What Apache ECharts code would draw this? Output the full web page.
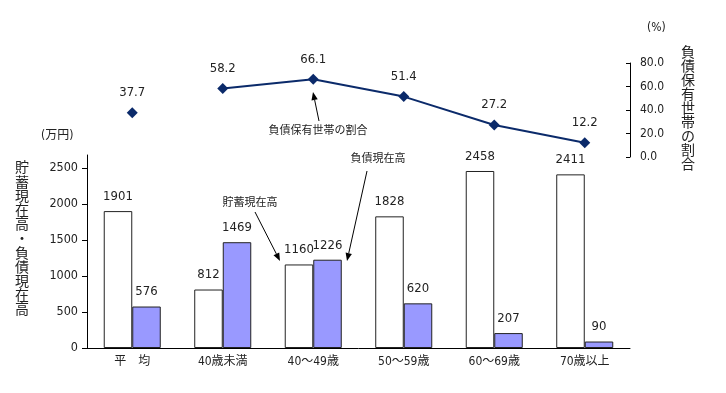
<!DOCTYPE html>
<html><head><meta charset="utf-8">
<script src="https://cdn.jsdelivr.net/npm/echarts@6/dist/echarts.min.js"></script>
<style>html,body{margin:0;padding:0;background:#fff}#c{width:726px;height:393px}</style>
</head><body><div id="c"></div>
<script>
const categories = ['平　均', '40歳未満', '40～49歳', '50～59歳', '60～69歳', '70歳以上'];
const savings = [1901, 812, 1160, 1828, 2458, 2411];
const debts = [576, 1469, 1226, 620, 207, 90];
const debtRatio = [37.7, 58.2, 66.1, 51.4, 27.2, 12.2];
const leftTicks = [0, 500, 1000, 1500, 2000, 2500];
const rightTicks = [0, 20, 40, 60, 80];

const FONT = '"DejaVu Sans Condensed", "Noto Sans CJK JP", sans-serif';
const CJK = '"Noto Sans CJK JP", sans-serif';
const NAVY = '#0b2a6a';
const TXT = '#222';

const avgPoint = debtRatio.map((v, i) => i === 0 ? v : null);
const linePts = debtRatio.map((v, i) => i === 0 ? null : v);

function arrow(x1, y1, x2, y2) {
  const a = Math.atan2(y2 - y1, x2 - x1), L = 8, W = 3.2;
  const bx = x2 - L * Math.cos(a), by = y2 - L * Math.sin(a);
  const px = -Math.sin(a) * W, py = Math.cos(a) * W;
  return [
    { type: 'line', shape: { x1, y1, x2: bx, y2: by }, style: { stroke: '#000', lineWidth: 1 } },
    { type: 'polygon', shape: { points: [[x2, y2], [bx + px, by + py], [bx - px, by - py]] }, style: { fill: '#000' } }
  ];
}
function vtext(s) { return s.split('').join('\n'); }

const chart = echarts.init(document.getElementById('c'));
chart.setOption({
  animation: false,
  backgroundColor: '#fff',
  grid: [
    { left: 87, right: 96, top: 63, height: 94 },
    { left: 87, right: 96, top: 155, bottom: 45 }
  ],
  xAxis: [
    { type: 'category', gridIndex: 0, data: categories, show: false },
    { type: 'category', gridIndex: 1, data: categories,
      axisLine: { lineStyle: { color: '#000', width: 1 } },
      axisTick: { show: false },
      axisLabel: { color: TXT, fontFamily: FONT, fontSize: 12, margin: 8 } }
  ],
  yAxis: [
    { type: 'value', gridIndex: 0, position: 'right', min: 0, max: 80, interval: 20,
      splitLine: { show: false },
      axisLine: { show: true, lineStyle: { color: '#000' } },
      axisTick: { show: true, inside: true, length: 4, lineStyle: { color: '#000' } },
      axisLabel: { color: TXT, fontFamily: FONT, fontSize: 12, margin: 10,
        formatter: v => v.toFixed(1), customValues: rightTicks } },
    { type: 'value', gridIndex: 1, min: 0, max: 2680,
      splitLine: { show: false },
      axisLine: { show: true, lineStyle: { color: '#000' } },
      axisTick: { show: true, length: 5, lineStyle: { color: '#000' }, customValues: leftTicks },
      axisLabel: { color: TXT, fontFamily: FONT, fontSize: 12.5, margin: 9, customValues: leftTicks,
        formatter: v => String(v) } }
  ],
  series: [
    { type: 'bar', xAxisIndex: 1, yAxisIndex: 1, data: savings, barGap: '0%', barCategoryGap: '37%',
      itemStyle: { color: '#fff', borderColor: '#222', borderWidth: 1 },
      label: { show: true, position: 'top', distance: 8, color: TXT, fontFamily: FONT, fontSize: 13 } },
    { type: 'bar', xAxisIndex: 1, yAxisIndex: 1, data: debts,
      itemStyle: { color: '#9999ff', borderColor: '#222', borderWidth: 1 },
      label: { show: true, position: 'top', distance: 8, color: TXT, fontFamily: FONT, fontSize: 13 } },
    { type: 'line', xAxisIndex: 0, yAxisIndex: 0, data: linePts, connectNulls: false,
      symbol: 'diamond', symbolSize: 11, lineStyle: { color: NAVY, width: 2 }, itemStyle: { color: NAVY },
      label: { show: true, position: 'top', distance: 8, color: TXT, fontFamily: FONT, fontSize: 13, formatter: p => p.value.toFixed(1) } },
    { type: 'line', xAxisIndex: 0, yAxisIndex: 0, data: avgPoint,
      symbol: 'diamond', symbolSize: 11, lineStyle: { width: 0 }, itemStyle: { color: NAVY },
      label: { show: true, position: 'top', distance: 8, color: TXT, fontFamily: FONT, fontSize: 13, formatter: p => p.value.toFixed(1) } }
  ],
  graphic: [
    { type: 'text', left: 41, top: 130, style: { text: '(万円)', fill: TXT, font: '12px ' + FONT } },
    { type: 'text', left: 647, top: 22, style: { text: '(%)', fill: TXT, font: '12px ' + FONT } },
    { type: 'text', x: 22, y: 160, style: { text: vtext('貯蓄現在高・負債現在高'), fill: TXT, font: '14px ' + CJK, lineHeight: 14.2, align: 'center' } },
    { type: 'text', x: 688, y: 45, style: { text: vtext('負債保有世帯の割合'), fill: TXT, font: '14px ' + CJK, lineHeight: 14, align: 'center' } },
    { type: 'text', x: 318, y: 124, style: { text: '負債保有世帯の割合', fill: TXT, font: '11px ' + CJK, align: 'center' } },
    { type: 'text', x: 250, y: 196, style: { text: '貯蓄現在高', fill: TXT, font: '11px ' + CJK, align: 'center' } },
    { type: 'text', x: 378, y: 152, style: { text: '負債現在高', fill: TXT, font: '11px ' + CJK, align: 'center' } },
    ...arrow(319, 121, 313, 92),
    ...arrow(255, 212, 280, 261),
    ...arrow(367, 171, 347, 261)
  ]
});
</script></body></html>
